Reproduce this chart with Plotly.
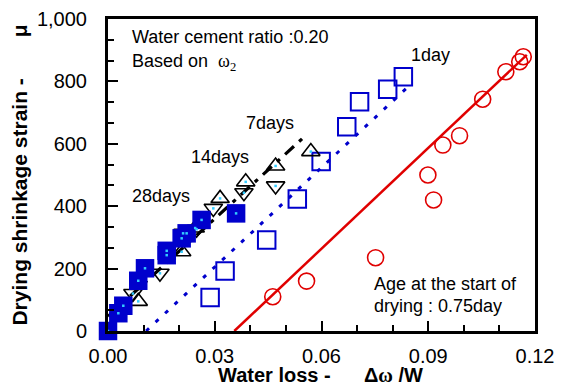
import plotly.graph_objects as go

# ---- data ----
d28_x = [0.0, 0.0029, 0.0043, 0.0085, 0.0104, 0.0165, 0.0165, 0.0207, 0.0221, 0.0263, 0.0360]
d28_y = [0, 57, 81, 161, 201, 257, 243, 297, 313, 356, 377]

d7_x = [0.0085, 0.0207, 0.0245, 0.0315, 0.0387, 0.0471, 0.0570]
d7_y = [95, 254, 330, 425, 478, 529, 575]

d14_x = [0.0070, 0.0146, 0.0211, 0.0249, 0.0296, 0.0382, 0.0471]
d14_y = [120, 185, 313, 326, 393, 443, 465]

d1_x = [0.0287, 0.0329, 0.0446, 0.0532, 0.0599, 0.0671, 0.0707, 0.0786, 0.0830]
d1_y = [107, 192, 292, 423, 543, 655, 735, 775, 815]

d075_x = [0.0463, 0.0558, 0.0752, 0.0899, 0.0915, 0.0941, 0.0988, 0.1053, 0.1118, 0.1157, 0.1167]
d075_y = [110, 160, 235, 500, 420, 596, 626, 743, 831, 863, 879]

fit_714_x = [0.0, 0.0554]
fit_714_y = [47, 625]
fit_1_x = [0.0107, 0.0839]
fit_1_y = [0, 778]
fit_075_x = [0.0355, 0.1177]
fit_075_y = [0, 885]

x_ticks = [0.0, 0.03, 0.06, 0.09, 0.12]
x_ticktext = ["0.00", "0.03", "0.06", "0.09", "0.12"]
y_ticks = [0, 200, 400, 600, 800, 1000]
y_ticktext = ["0", "200", "400", "600", "800", "1,000"]

BLUE = "#0000CC"
RED = "#E00000"
CYAN = "#33CCFF"
FONT = "Liberation Sans, Arial, sans-serif"

fig = go.Figure()

# fit lines
fig.add_trace(go.Scatter(x=fit_075_x, y=fit_075_y, mode="lines",
                         line=dict(color=RED, width=2.5), cliponaxis=False, showlegend=False))
fig.add_trace(go.Scatter(x=fit_1_x, y=fit_1_y, mode="lines",
                         line=dict(color=BLUE, width=3, dash="4px,9px"), showlegend=False))
fig.add_trace(go.Scatter(x=fit_714_x, y=fit_714_y, mode="lines",
                         line=dict(color="black", width=3.2, dash="12px,7px,4px,7px"), showlegend=False))

# markers
fig.add_trace(go.Scatter(x=d075_x, y=d075_y, mode="markers", name="0.75day",
                         marker=dict(symbol="circle-open", size=16, color=RED, line=dict(width=1.6)),
                         showlegend=False))
fig.add_trace(go.Scatter(x=d1_x, y=d1_y, mode="markers", name="1day",
                         marker=dict(symbol="square-open", size=17.5, color=BLUE, line=dict(width=2)),
                         showlegend=False))
fig.add_trace(go.Scatter(x=d14_x, y=d14_y, mode="markers", name="14days",
                         marker=dict(symbol="triangle-down-open", size=16, color="black", line=dict(width=1.6)),
                         showlegend=False))
fig.add_trace(go.Scatter(x=d7_x, y=d7_y, mode="markers", name="7days",
                         marker=dict(symbol="triangle-up-open", size=16, color="black", line=dict(width=1.6)),
                         showlegend=False))
fig.add_trace(go.Scatter(x=d28_x, y=d28_y, mode="markers", name="28days", cliponaxis=False,
                         marker=dict(symbol="square", size=18.5, color=BLUE, line=dict(width=0)),
                         showlegend=False))
# small cyan centre dots seen in the reference
fig.add_trace(go.Scatter(x=d28_x + d7_x + d14_x, y=d28_y + d7_y + d14_y, mode="markers",
                         cliponaxis=False,
                         marker=dict(symbol="square", size=2.5, color=CYAN, line=dict(width=0)),
                         showlegend=False, hoverinfo="skip"))

ann = dict(showarrow=False, font=dict(family=FONT, size=18, color="black"), xref="x", yref="y")
annotations = [
    dict(text="Water cement ratio :0.20", x=0.0062, y=942, xanchor="left", **ann),
    dict(text="Based on  <span style='font-family:Liberation Serif'>ω<sub>2</sub></span>",
         x=0.0062, y=859, xanchor="left", **ann),
    dict(text="1day", x=0.0905, y=885, **ann),
    dict(text="7days", x=0.0455, y=667, **ann),
    dict(text="14days", x=0.0315, y=558, **ann),
    dict(text="28days", x=0.0149, y=433, **ann),
    dict(text="Age at the start of", x=0.0742, y=151, xanchor="left", **ann),
    dict(text="drying : 0.75day", x=0.0742, y=80, xanchor="left", **ann),
    # x-axis title
    dict(text="<b>Water loss -\u00a0\u00a0\u00a0\u00a0\u00a0\u00a0Δ<span style='font-family:Liberation Serif'>ω</span> /W</b>",
         xref="paper", yref="paper", x=0.4965, y=-0.142, xanchor="center", yanchor="middle",
         showarrow=False, font=dict(family=FONT, size=20, color="black")),
]

fig.update_layout(
    width=571, height=392,
    margin=dict(l=108, r=36, t=19, b=61, autoexpand=False),
    paper_bgcolor="white", plot_bgcolor="white",
    font=dict(family=FONT, color="black"),
    annotations=annotations,
    xaxis=dict(
        range=[0, 0.12], tickvals=x_ticks, ticktext=x_ticktext,
        ticks="inside", ticklen=10, tickwidth=1.5, tickcolor="black",
        minor=dict(ticks="inside", ticklen=6, tickwidth=1.5, tickcolor="black", dtick=0.01, tick0=0),
        showline=True, linewidth=3, linecolor="black", mirror=True,
        showgrid=False, zeroline=False, automargin=False,
        tickfont=dict(size=20, family=FONT),
        ticklabelstandoff=5,
    ),
    yaxis=dict(
        range=[0, 1000], tickvals=y_ticks, ticktext=y_ticktext,
        ticks="inside", ticklen=10, tickwidth=1.5, tickcolor="black",
        minor=dict(ticks="inside", ticklen=6, tickwidth=1.5, tickcolor="black", dtick=200 / 3, tick0=0),
        showline=True, linewidth=3, linecolor="black", mirror=True,
        showgrid=False, zeroline=False, automargin=False,
        tickfont=dict(size=20, family=FONT),
        ticklabelstandoff=14,
        title=dict(text="<b>Drying shrinkage strain -\u00a0\u00a0\u00a0\u00a0\u00a0\u00a0\u00a0μ</b>",
                   font=dict(size=21, family=FONT), standoff=4),
    ),
)

fig.write_html("out.html")
